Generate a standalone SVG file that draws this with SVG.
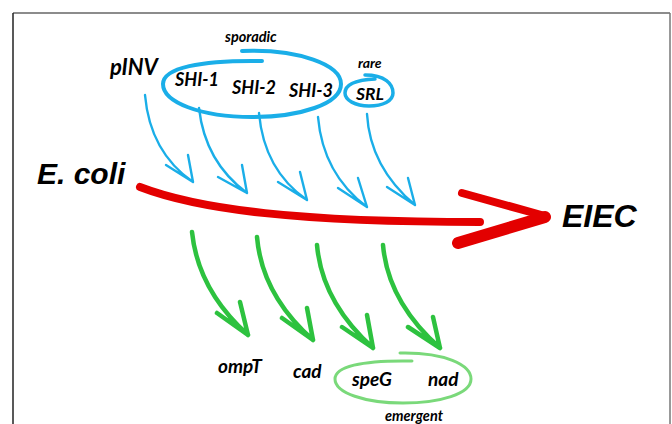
<svg xmlns="http://www.w3.org/2000/svg" width="672" height="424" viewBox="0 0 672 424">
<style>
.lbl{font-family:Lato,"Open Sans","Liberation Sans",sans-serif;font-weight:bold;font-style:italic;fill:#000}
.big{font-family:"Liberation Sans",Arial,sans-serif;font-weight:bold;font-style:italic;fill:#000}
.blue{fill:none;stroke:#1AAEE8;stroke-linecap:round;stroke-linejoin:round}
.green{fill:none;stroke:#2DC23F;stroke-width:4.5;stroke-linecap:round;stroke-linejoin:round}
.red{fill:none;stroke:#E30000;stroke-linecap:round;stroke-linejoin:round}
</style>
<rect width="672" height="424" fill="#fff"/>
<g id="frame">
<line x1="13" y1="13" x2="670" y2="13" stroke="#666" stroke-width="1.5"/>
<line x1="13" y1="13" x2="13" y2="424" stroke="#222" stroke-width="1.5"/>
<line x1="670" y1="13" x2="670" y2="424" stroke="#777" stroke-width="1.5"/>
</g>
<g id="connectors">
<g id="blue-arrows" class="blue" stroke-width="2.4">
<path d="M145,95 Q150,152 193,182 M166,165 L193,182 L188,155"/>
<path d="M199,108 Q205,162 247,193 M218,177 L247,193 L242,165"/>
<path d="M259,113 Q264,170 307,200 M278,182 L307,200 L300,172"/>
<path d="M318,117 Q323,174 367,207 M338,188 L367,207 L358,178"/>
<path d="M367,114 Q370,167 415,205 M387,187 L415,205 L408,178"/>
</g>
<g id="red-arrow" class="red">
<path d="M140,187 C200,210 300,222 480,222" stroke-width="8"/>
<path d="M462,193 L545,216" stroke-width="8"/>
<path d="M545,217 L458,243" stroke-width="12"/>
</g>
<g id="green-arrows" class="green">
<path d="M192,232 Q198,290 248,335 M217,313 L248,335 L240,302"/>
<path d="M257,237 Q262,295 313,340 M282,318 L313,340 L307,308"/>
<path d="M317,245 Q322,302 373,348 M342,327 L373,348 L367,315"/>
<path d="M383,245 Q388,302 440,348 M408,327 L440,348 L433,317"/>
</g>
</g>
<g id="pINV"><text class="lbl" x="110" y="75" font-size="22">pINV</text></g>
<g id="sporadic-group">
<path class="blue" stroke-width="4" d="M242,51 C300,49 341,65 341,84 C341,104 300,117 252,117 C200,117 163,102 163,84 C163,68 200,60 262,61"/>
<text class="lbl" x="225" y="42" font-size="14.5">sporadic</text>
</g>
<g id="SHI-1"><text class="lbl" x="175" y="86" font-size="18">SHI-1</text></g>
<g id="SHI-2"><text class="lbl" x="232" y="94" font-size="18">SHI-2</text></g>
<g id="SHI-3"><text class="lbl" x="289" y="97" font-size="18">SHI-3</text></g>
<g id="SRL">
<path class="blue" stroke-width="3.5" d="M365,75 C385,75 393,84 393,93 C393,101 383,106 369,106 C355,106 345,100 345,93 C345,85 355,80 375,79"/>
<text class="lbl" x="356" y="100" font-size="17.5">SRL</text>
<text class="lbl" x="358" y="68" font-size="14">rare</text>
</g>
<g id="Ecoli"><text class="big" x="37" y="184" font-size="30">E. coli</text></g>
<g id="EIEC"><text class="big" x="562" y="227" font-size="32">EIEC</text></g>
<g id="ompT"><text class="lbl" x="218" y="373" font-size="19">ompT</text></g>
<g id="cad"><text class="lbl" x="293" y="378" font-size="19">cad</text></g>
<g id="emergent-group">
<path fill="none" stroke="#7AD97A" stroke-width="3" stroke-linecap="round" d="M400,353 C445,352 471,365 471,379 C471,394 440,403 403,403 C365,403 335,393 335,379 C335,367 360,360 412,361"/>
<text class="lbl" x="352" y="386" font-size="19">speG</text>
<text class="lbl" x="428" y="386" font-size="19">nad</text>
<text class="lbl" x="385" y="421" font-size="14.5">emergent</text>
</g>
</svg>
